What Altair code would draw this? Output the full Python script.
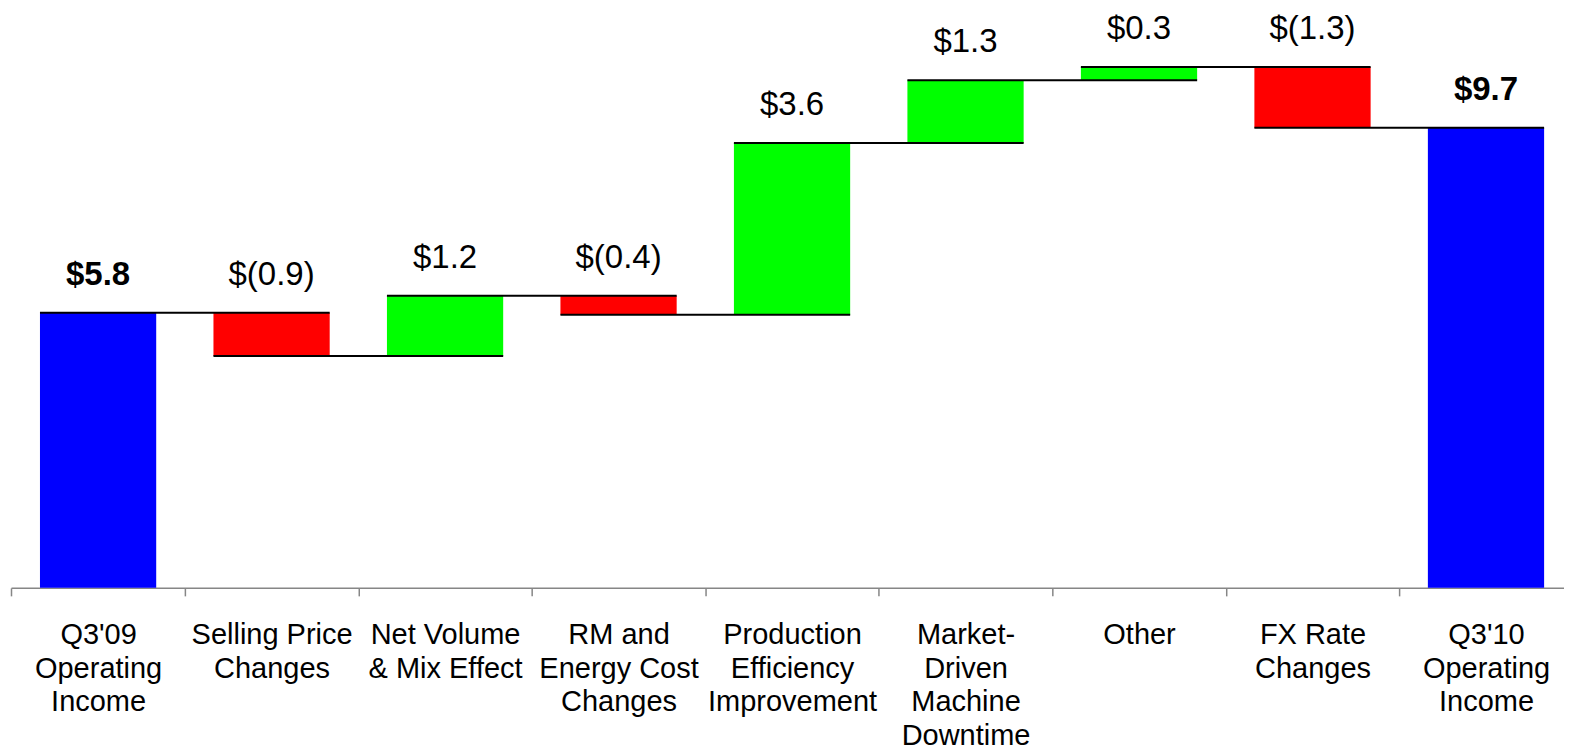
import altair as alt
import pandas as pd

categories = ["Q3'09|Operating|Income", "Selling Price|Changes", "Net Volume|& Mix Effect",
              "RM and|Energy Cost|Changes", "Production|Efficiency|Improvement",
              "Market-|Driven|Machine|Downtime", "Other", "FX Rate|Changes",
              "Q3'10|Operating|Income"]
kinds = ["total", "down", "up", "down", "up", "up", "up", "down", "total"]
amounts = [5.8, -0.91, 1.27, -0.40, 3.62, 1.32, 0.28, -1.28, 9.70]
value_labels = ["$5.8", "$(0.9)", "$1.2", "$(0.4)", "$3.6", "$1.3", "$0.3", "$(1.3)", "$9.7"]

rows = []
level = 0.0
for cat, kind, amt, lab in zip(categories, kinds, amounts, value_labels):
    if kind == "total":
        start, end = 0.0, amt
    else:
        start, end = level, level + amt
    level = end
    rows.append({"cat": cat, "kind": kind, "start": start, "end": end,
                 "top": max(start, end), "label": lab,
                 "weight": "bold" if kind == "total" else "normal"})
df = pd.DataFrame(rows)

conn = pd.DataFrame([
    {"cat": categories[i], "next": categories[i + 1], "level": rows[i]["end"]}
    for i in range(len(categories) - 1)
])

FONT = "Liberation Sans"
W = 1554
PI = 0.33
PO = 0.1408
STEP = W / (len(categories) - PI + 2 * PO)
xscale = alt.Scale(domain=categories, paddingInner=PI, paddingOuter=PO, align=0.593)
yscale = alt.Scale(domain=[0, 12.22], nice=False, zero=True)

x_axis = alt.Axis(title=None, labelAngle=0, labelExpr="split(datum.value, '|')",
                  labelFont=FONT, labelFontSize=29, labelColor="black",
                  labelLineHeight=33.5, labelPadding=25, labelLimit=300,
                  labelOverlap=False, labelBound=False, labelFlush=False,
                  domainColor="#868686", domainWidth=1.5, tickColor="#868686",
                  tickWidth=1.5, tickSize=8, tickOffset=-STEP / 2,
                  labelOffset=STEP / 2, grid=False)

base = alt.Chart(df)

bars = base.mark_bar().encode(
    x=alt.X("cat:N", scale=xscale, axis=x_axis, sort=categories),
    y=alt.Y("start:Q", scale=yscale, axis=None),
    y2="end:Q",
    color=alt.Color("kind:N", scale=alt.Scale(domain=["total", "down", "up"],
                                             range=["#0000FF", "#FF0000", "#00FF00"]),
                    legend=None),
)

rules = alt.Chart(conn).mark_rule(color="black", strokeWidth=2).encode(
    x=alt.X("cat:N", scale=xscale, sort=categories, bandPosition=0),
    x2=alt.X2("next:N", bandPosition=1),
    y=alt.Y("level:Q", scale=yscale),
)

text_normal = base.transform_filter("datum.weight == 'normal'").mark_text(
    font=FONT, fontSize=33, baseline="alphabetic", dy=-28, color="black"
).encode(
    x=alt.X("cat:N", scale=xscale, sort=categories),
    y=alt.Y("top:Q", scale=yscale),
    text="label:N",
)
text_bold = base.transform_filter("datum.weight == 'bold'").mark_text(
    font=FONT, fontSize=33, fontWeight="bold", baseline="alphabetic", dy=-28, color="black"
).encode(
    x=alt.X("cat:N", scale=xscale, sort=categories),
    y=alt.Y("top:Q", scale=yscale),
    text="label:N",
)

chart = alt.layer(bars, rules, text_normal, text_bold).properties(
    width=W, height=580,
    padding={"left": 2, "top": 0, "right": 0, "bottom": 0},
).configure_view(stroke=None)

chart.save("out.html", embed_options={"renderer": "svg", "actions": False})
